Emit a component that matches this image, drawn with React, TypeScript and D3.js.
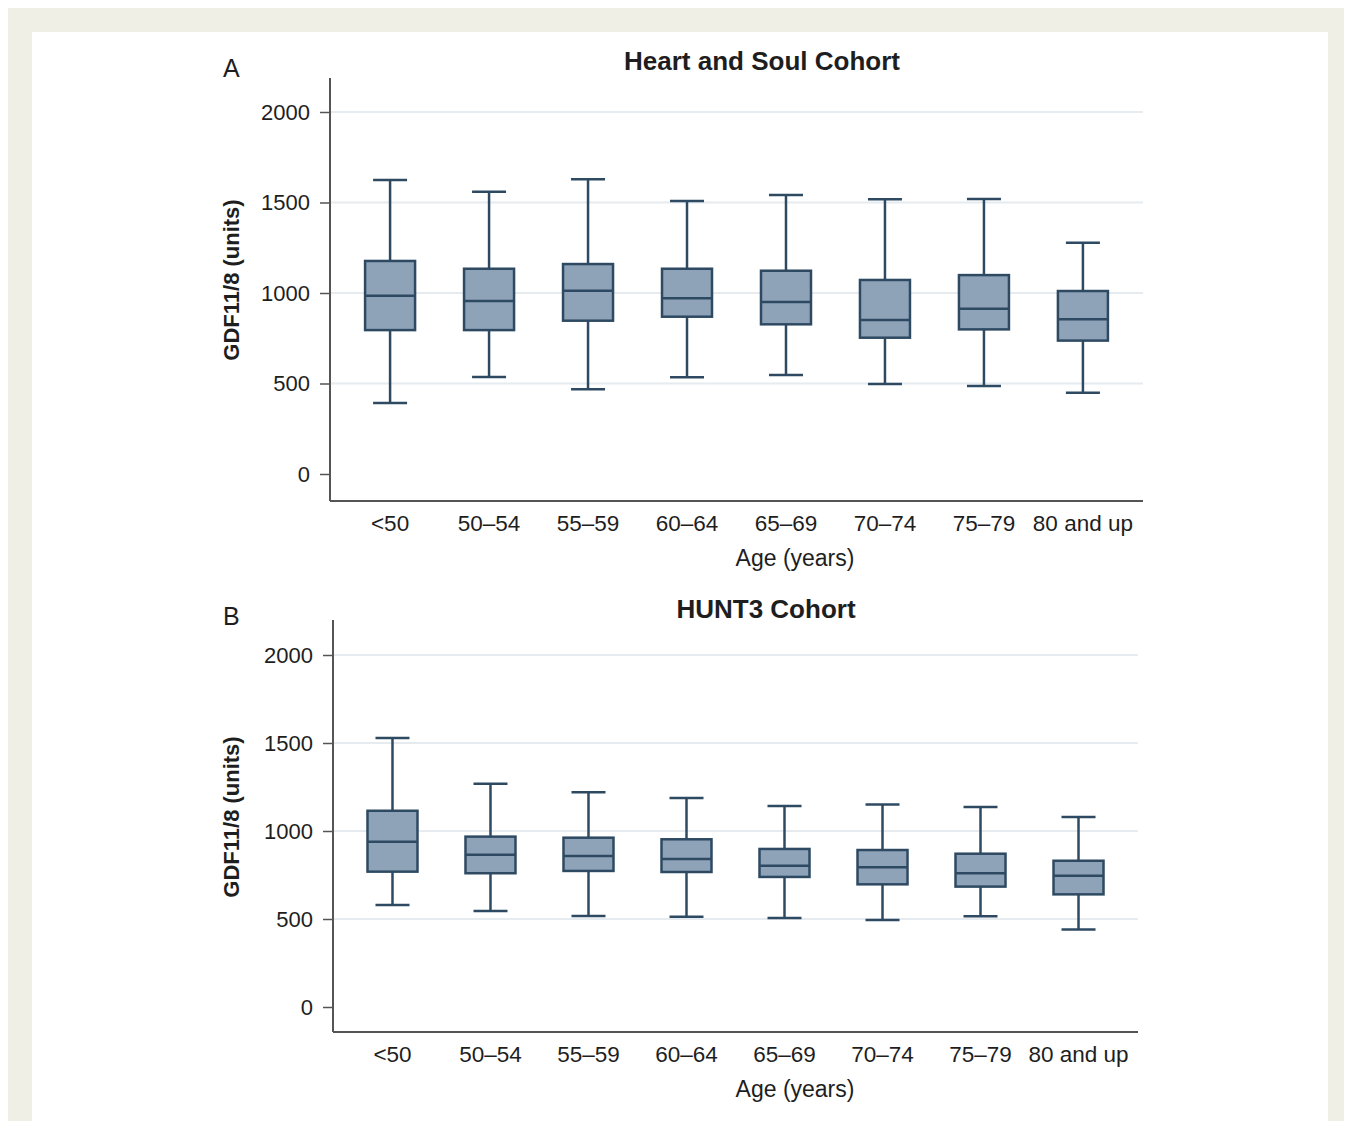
import React, { useRef, useEffect } from "react";
import * as d3 from "d3";

// age groups shared by both cohorts
const ageGroups = ["<50", "50\u201354", "55\u201359", "60\u201364", "65\u201369", "70\u201374", "75\u201379", "80 and up"];
const yTicks = [0, 500, 1000, 1500, 2000];

// Heart and Soul cohort: whisker low, Q1, median, Q3, whisker high
const hsLow = [392, 536, 468, 534, 547, 497, 486, 449];
const hsQ1 = [795, 795, 847, 869, 827, 753, 799, 737];
const hsMedian = [985, 956, 1013, 971, 950, 851, 913, 855];
const hsQ3 = [1177, 1134, 1160, 1134, 1123, 1072, 1099, 1011];
const hsHigh = [1624, 1560, 1628, 1508, 1541, 1518, 1519, 1278];

// HUNT3 cohort
const huntLow = [580, 545, 517, 513, 506, 494, 515, 441];
const huntQ1 = [769, 760, 773, 767, 739, 697, 684, 640];
const huntMedian = [939, 865, 858, 841, 803, 794, 760, 746];
const huntQ3 = [1115, 968, 962, 953, 898, 892, 871, 831];
const huntHigh = [1528, 1269, 1220, 1188, 1142, 1150, 1136, 1080];

const FONT = "'Liberation Sans', Arial, Helvetica, sans-serif";
const BOX_STROKE = "#2e4a62";
const BOX_FILL = "#8ea3b8";
const TEXT = "#1e1e1e";

const drawPanel = (svg, p) => {
  const g = svg.append("g");
  const y = d3.scaleLinear().domain([0, 2000]).range([p.y0, p.y2000]);
  const x = d3.scalePoint().domain(ageGroups).range([p.left, p.right]).padding(0.607);

  // gridlines
  g.selectAll(".grid")
    .data(yTicks.slice(1))
    .enter()
    .append("line")
    .attr("x1", p.left)
    .attr("x2", p.right)
    .attr("y1", (d) => y(d))
    .attr("y2", (d) => y(d))
    .attr("stroke", "#e6ebf0")
    .attr("stroke-width", 2);

  // y axis ticks + labels
  const yAxis = d3.axisLeft(y).tickValues(yTicks).tickFormat(d3.format("d"))
    .tickSize(10).tickPadding(10).tickSizeOuter(0);
  const ya = g.append("g").attr("transform", `translate(${p.left},0)`).call(yAxis);
  ya.select(".domain").remove();
  ya.selectAll("line").attr("stroke", "#555").attr("stroke-width", 1.5);
  ya.selectAll("text").attr("font-family", FONT).attr("font-size", 22).attr("fill", TEXT);

  // axis lines
  g.append("line").attr("x1", p.left).attr("x2", p.left).attr("y1", p.top).attr("y2", p.bottom)
    .attr("stroke", "#555").attr("stroke-width", 2);
  g.append("line").attr("x1", p.left).attr("x2", p.right).attr("y1", p.bottom).attr("y2", p.bottom)
    .attr("stroke", "#555").attr("stroke-width", 2);

  const rows = ageGroups.map((a, i) => ({
    age: a, low: p.low[i], q1: p.q1[i], med: p.med[i], q3: p.q3[i], high: p.high[i],
  }));
  const boxW = 50;
  const capW = 34;

  const box = g.selectAll(".box").data(rows).enter().append("g")
    .attr("stroke", BOX_STROKE).attr("stroke-width", 2.5);

  box.append("line").attr("x1", (d) => x(d.age)).attr("x2", (d) => x(d.age))
    .attr("y1", (d) => y(d.high)).attr("y2", (d) => y(d.low));
  box.append("line").attr("x1", (d) => x(d.age) - capW / 2).attr("x2", (d) => x(d.age) + capW / 2)
    .attr("y1", (d) => y(d.high)).attr("y2", (d) => y(d.high));
  box.append("line").attr("x1", (d) => x(d.age) - capW / 2).attr("x2", (d) => x(d.age) + capW / 2)
    .attr("y1", (d) => y(d.low)).attr("y2", (d) => y(d.low));
  box.append("rect")
    .attr("x", (d) => x(d.age) - boxW / 2)
    .attr("y", (d) => y(d.q3))
    .attr("width", boxW)
    .attr("height", (d) => y(d.q1) - y(d.q3))
    .attr("fill", BOX_FILL);
  box.append("line").attr("x1", (d) => x(d.age) - boxW / 2).attr("x2", (d) => x(d.age) + boxW / 2)
    .attr("y1", (d) => y(d.med)).attr("y2", (d) => y(d.med));

  // x labels
  g.selectAll(".xl").data(ageGroups).enter().append("text")
    .attr("x", (d) => x(d))
    .attr("y", p.bottom + 30)
    .attr("text-anchor", "middle")
    .attr("font-family", FONT).attr("font-size", 22.5).attr("fill", TEXT)
    .text((d) => d);

  g.append("text").attr("x", 795).attr("y", p.bottom + 65)
    .attr("text-anchor", "middle").attr("font-family", FONT).attr("font-size", 23).attr("fill", TEXT)
    .text("Age (years)");

  g.append("text").attr("transform", `translate(239,${p.labelY}) rotate(-90)`)
    .attr("text-anchor", "middle").attr("font-family", FONT).attr("font-size", 22)
    .attr("font-weight", "bold").attr("fill", TEXT)
    .text("GDF11/8 (units)");

  g.append("text").attr("x", 223).attr("y", p.titleY + 7).attr("font-family", FONT)
    .attr("font-size", 25).attr("fill", TEXT).text(p.letter);
  g.append("text").attr("x", p.titleX).attr("y", p.titleY).attr("text-anchor", "middle")
    .attr("font-family", FONT).attr("font-size", 26).attr("font-weight", "bold").attr("fill", TEXT)
    .text(p.title);
};

const App = () => {
  const svgRef = useRef();

  useEffect(() => {
    const svg = d3.select(svgRef.current);
    svg.selectAll("*").remove();

    svg.append("rect").attr("x", 8).attr("y", 8).attr("width", 1336).attr("height", 1113).attr("fill", "#efefe6");
    svg.append("rect").attr("x", 32).attr("y", 32).attr("width", 1296).attr("height", 1089).attr("fill", "#fff");

    drawPanel(svg, {
      left: 330, right: 1143, top: 78, bottom: 501, y0: 474, y2000: 112,
      low: hsLow, q1: hsQ1, med: hsMedian, q3: hsQ3, high: hsHigh,
      title: "Heart and Soul Cohort", titleX: 762, titleY: 70, letter: "A", labelY: 280,
    });
    drawPanel(svg, {
      left: 333, right: 1138, top: 620, bottom: 1032, y0: 1007, y2000: 655,
      low: huntLow, q1: huntQ1, med: huntMedian, q3: huntQ3, high: huntHigh,
      title: "HUNT3 Cohort", titleX: 766, titleY: 618, letter: "B", labelY: 817,
    });
  }, []);

  return (
    <svg
      ref={svgRef}
      width={1352}
      height={1121}
      style={{ position: "absolute", top: 0, left: 0, display: "block" }}
    ></svg>
  );
};

export default App;
